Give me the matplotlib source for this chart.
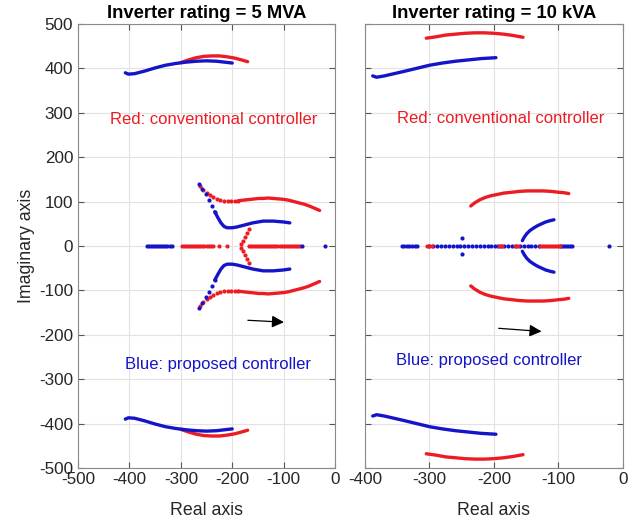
import numpy as np
import matplotlib
matplotlib.use('Agg')
from matplotlib import pyplot as plt

plt.rcParams['font.family'] = ['Liberation Sans', 'DejaVu Sans']
plt.rcParams['axes.unicode_minus'] = False

RED = '#ec1c24'
BLUE = '#1414c8'

# ---------------- Inverter rating = 5 MVA ----------------
# dense branches (upper half, lower half is the conjugate)
mva_blue_top_x = [-408, -402, -390, -370, -350, -330, -310, -290, -270, -250, -230, -215, -200]
mva_blue_top_y = [390, 387, 388, 394, 401, 407, 411, 414, 416, 417, 416, 414, 412]
mva_red_top_x = [-300, -285, -270, -255, -240, -225, -210, -195, -182, -170]
mva_red_top_y = [413, 419, 424, 427, 428, 428, 426, 423, 419, 415]

mva_blue_mid_x = [-264, -258, -252, -246, -240, -234, -228, -222, -216, -210, -200, -190, -180, -170,
                  -160, -150, -140, -130, -120, -110, -100, -88]
mva_blue_mid_y = [140, 128, 116, 103, 90, 77, 64, 52, 44, 41, 41, 43, 46, 49,
                  52, 54, 56, 56, 56, 55, 54, 52]
mva_red_mid_x = [-262, -256, -250, -244, -237, -230, -223, -216, -209, -202, -195, -188, -180, -172,
                 -164, -156, -148, -140, -130, -120, -110, -100, -90, -80, -70, -60, -50, -40, -30]
mva_red_mid_y = [135, 126, 119, 114, 110, 106, 104, 102, 101, 101, 101, 102, 103, 104,
                 105, 106, 107, 107, 108, 107, 106, 105, 103, 100, 97, 94, 90, 85, 80]
mva_red_break_x = [-168, -172, -176, -180, -183]
mva_red_break_y = [38, 30, 21, 12, 4]

# real-axis poles
mva_red_axis_x = [-298, -294, -290, -286, -282, -278, -274, -270, -266, -262, -258, -254, -250,
                  -246, -241, -237, -226, -210,
                  -168, -164, -160, -156, -152, -148, -144, -140, -136, -132, -128, -124,
                  -120, -116, -112, -108, -104, -100, -96, -92, -88, -84, -80, -76, -72, -68]
mva_blue_axis_x = [-366, -362, -358, -354, -350, -346, -342, -338, -334, -330, -326, -322, -318,
                   -65, -19]

# ---------------- Inverter rating = 10 kVA ----------------
kva_blue_top_x = [-388, -382, -370, -355, -340, -320, -300, -280, -260, -240, -220, -197]
kva_blue_top_y = [383, 380, 383, 388, 393, 400, 407, 412, 416, 419, 422, 424]
kva_red_top_x = [-305, -290, -275, -260, -245, -230, -215, -200, -185, -170, -155]
kva_red_top_y = [468, 471, 475, 477, 479, 480, 480, 479, 477, 474, 470]

kva_red_mid_x = [-236, -230, -222, -214, -205, -195, -185, -172, -160, -148, -136, -124, -112, -100,
                 -92, -84]
kva_red_mid_y = [90, 97, 104, 109, 113, 116, 119, 121, 123, 124, 124, 124, 123, 121, 120, 118]
kva_blue_mid_x = [-156, -153, -149, -144, -138, -132, -126, -120, -113, -107]
kva_blue_mid_y = [12, 20, 28, 35, 41, 46, 50, 54, 57, 59]
kva_blue_off_x = [-250]
kva_blue_off_y = [17]

kva_blue_axis_x = [-343, -339, -335, -331, -327, -323, -320,
                   -300, -294, -288, -282, -276, -270, -264, -258, -252, -246, -240, -234, -228,
                   -222, -216, -210, -204, -199, -194, -189, -184, -178, -172, -166, -160, -154,
                   -148, -142, -136, -130,
                   -97, -94, -91, -88, -85, -82, -79, -22]
kva_red_axis_x = [-304, -300, -296, -193, -187, -168, -162,
                  -128, -125, -122, -119, -116, -113, -110, -107, -104, -101, -98]

# arrows (start, end) in data units
mva_arrow = [(-175, -167), (-94, -172)]
kva_arrow = [(-197, -185), (-122, -193)]


def conj(y):
    return [-v for v in y]


def dense(ax, x, y, c):
    ax.plot(x, y, '-', color=c, lw=2.4, solid_capstyle='round')
    ax.plot(x, conj(y), '-', color=c, lw=2.4, solid_capstyle='round')


def dots(ax, x, y, c, ms=3.0):
    ax.plot(x, y, 'o', color=c, ms=ms, mec='none')
    ax.plot(x, conj(y), 'o', color=c, ms=ms, mec='none')


def style(ax, xlim, xticks, title, ylab):
    ax.set_xlim(xlim)
    ax.set_ylim(-500, 500)
    ax.set_xticks(xticks)
    ax.set_yticks(range(-500, 501, 100))
    ax.grid(True, color='#e2e2e2', lw=0.8)
    ax.set_axisbelow(True)
    for s in ax.spines.values():
        s.set_color('#8a8a8a')
        s.set_linewidth(0.8)
    ax.tick_params(direction='in', length=4, width=0.8, color='#555555',
                   top=True, right=True, labelsize=12.3, labelcolor='#262626')
    ax.tick_params(axis='x', pad=3)
    ax.set_title(title, fontsize=13.2, fontweight='bold', pad=4)
    ax.set_xlabel('Real axis', fontsize=12.8, color='#262626', labelpad=11)
    if ylab:
        ax.set_ylabel('Imaginary axis', fontsize=12.8, color='#262626', labelpad=3)
    else:
        ax.set_yticklabels([])


fig = plt.figure(figsize=(6.41, 5.23), dpi=100)
ax1 = fig.add_axes([0.1217, 0.1052, 0.401, 0.849])
ax2 = fig.add_axes([0.5694, 0.1052, 0.4025, 0.849])

# left panel
style(ax1, (-500, 0), range(-500, 1, 100), 'Inverter rating = 5 MVA', True)
dense(ax1, mva_red_top_x, mva_red_top_y, RED)
dense(ax1, mva_blue_top_x, mva_blue_top_y, BLUE)
dots(ax1, mva_red_mid_x[:12], mva_red_mid_y[:12], RED)
dense(ax1, mva_red_mid_x[11:], mva_red_mid_y[11:], RED)
dots(ax1, mva_blue_mid_x[:6], mva_blue_mid_y[:6], BLUE)
dense(ax1, mva_blue_mid_x[5:], mva_blue_mid_y[5:], BLUE)
dots(ax1, mva_red_break_x, mva_red_break_y, RED)
ax1.plot(mva_red_axis_x, np.zeros(len(mva_red_axis_x)), 'o', color=RED, ms=3.0, mec='none')
ax1.plot(mva_blue_axis_x, np.zeros(len(mva_blue_axis_x)), 'o', color=BLUE, ms=3.0, mec='none')
ax1.text(-237, 284, 'Red: conventional controller', color=RED, fontsize=12,
         ha='center', va='center')
ax1.text(-228, -266, 'Blue: proposed controller', color=BLUE, fontsize=12,
         ha='center', va='center')
ax1.annotate('', xy=mva_arrow[1], xytext=mva_arrow[0],
             arrowprops=dict(arrowstyle='-|>', color='black', lw=0.9,
                             mutation_scale=18))

# right panel
style(ax2, (-400, 0), range(-400, 1, 100), 'Inverter rating = 10 kVA', False)
dense(ax2, kva_red_top_x, kva_red_top_y, RED)
dense(ax2, kva_blue_top_x, kva_blue_top_y, BLUE)
dense(ax2, kva_red_mid_x, kva_red_mid_y, RED)
dense(ax2, kva_blue_mid_x, kva_blue_mid_y, BLUE)
dots(ax2, kva_blue_off_x, kva_blue_off_y, BLUE)
ax2.plot(kva_blue_axis_x, np.zeros(len(kva_blue_axis_x)), 'o', color=BLUE, ms=3.0, mec='none')
ax2.plot(kva_red_axis_x, np.zeros(len(kva_red_axis_x)), 'o', color=RED, ms=3.0, mec='none')
ax2.text(-190, 288, 'Red: conventional controller', color=RED, fontsize=12,
         ha='center', va='center')
ax2.text(-208, -257, 'Blue: proposed controller', color=BLUE, fontsize=12,
         ha='center', va='center')
ax2.annotate('', xy=kva_arrow[1], xytext=kva_arrow[0],
             arrowprops=dict(arrowstyle='-|>', color='black', lw=0.9,
                             mutation_scale=18))

fig.savefig('out.png', dpi=100)
